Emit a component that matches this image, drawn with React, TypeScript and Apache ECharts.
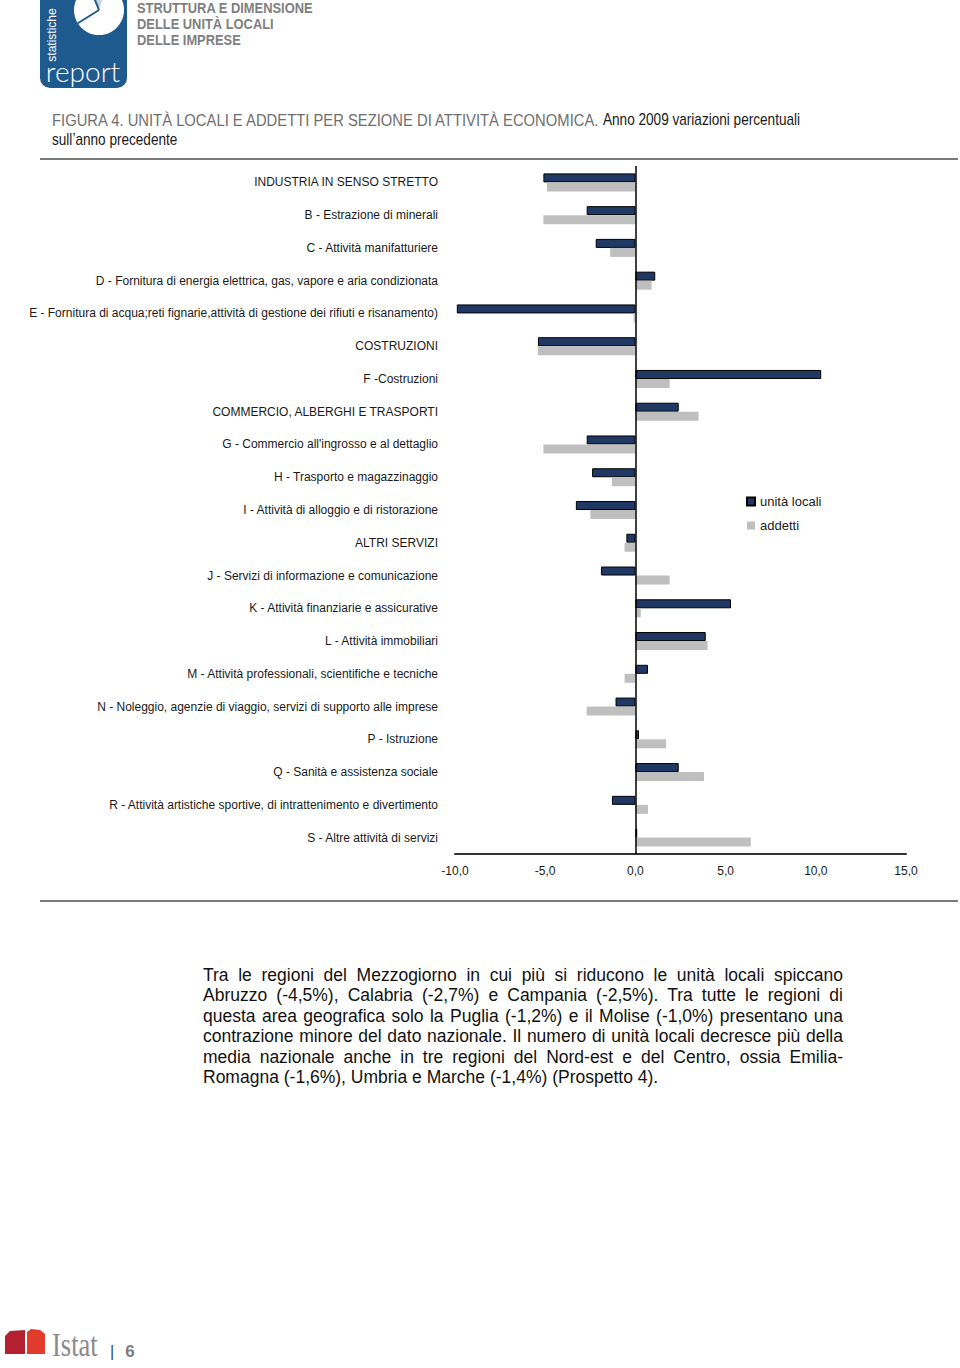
import React, { useEffect, useRef } from "react";
import * as echarts from "echarts";

const SANS = '"Liberation Sans", Arial, sans-serif';

const categories = [
  "INDUSTRIA IN SENSO STRETTO",
  "B - Estrazione di minerali",
  "C - Attività manifatturiere",
  "D - Fornitura di energia elettrica, gas, vapore e aria condizionata",
  "E - Fornitura di acqua;reti fignarie,attività di gestione dei rifiuti e risanamento)",
  "COSTRUZIONI",
  "F -Costruzioni",
  "COMMERCIO, ALBERGHI E TRASPORTI",
  "G - Commercio all'ingrosso e al dettaglio",
  "H - Trasporto e magazzinaggio",
  "I - Attività di alloggio e di ristorazione",
  "ALTRI SERVIZI",
  "J - Servizi di informazione e comunicazione",
  "K - Attività finanziarie e assicurative",
  "L - Attività immobiliari",
  "M - Attività professionali, scientifiche e tecniche",
  "N - Noleggio, agenzie di viaggio, servizi di supporto alle imprese",
  "P - Istruzione",
  "Q - Sanità e assistenza sociale",
  "R - Attività artistiche sportive, di intrattenimento e divertimento",
  "S - Altre attività di servizi",
];

const unitaLocali = [-5.1, -2.7, -2.2, 1.1, -9.9, -5.4, 10.3, 2.4, -2.7, -2.4, -3.3, -0.5, -1.9, 5.3, 3.9, 0.7, -1.1, 0.2, 2.4, -1.3, 0.1];
const addetti = [-4.9, -5.1, -1.4, 0.9, -0.1, -5.4, 1.9, 3.5, -5.1, -1.3, -2.5, -0.6, 1.9, 0.3, 4.0, -0.6, -2.7, 1.7, 3.8, 0.7, 6.4];

const xTicks = { min: -10, max: 15, interval: 5 };

const seriesNames = ["unità locali", "addetti"];

const headerLines = ["STRUTTURA E DIMENSIONE", "DELLE UNITÀ LOCALI", "DELLE IMPRESE"];

const paragraphLines = [
  "Tra le regioni del Mezzogiorno in cui più si riducono le unità locali spiccano",
  "Abruzzo (-4,5%), Calabria (-2,7%) e Campania (-2,5%). Tra tutte le regioni di",
  "questa area geografica solo la Puglia (-1,2%) e il Molise (-1,0%) presentano una",
  "contrazione minore del dato nazionale. Il numero di unità locali decresce più della",
  "media nazionale anche in tre regioni del Nord-est e del Centro, ossia Emilia-",
  "Romagna (-1,6%), Umbria e Marche (-1,4%) (Prospetto 4).",
];

function txt(text: string, x: number, y: number, font: string, fill: string, align = "left", extra: any = {}) {
  const { style: extraStyle, ...rest } = extra;
  return {
    type: "text",
    silent: true,
    x,
    y,
    ...rest,
    style: {
      text,
      x: 0,
      y: 0,
      font,
      fill,
      textAlign: align,
      align,
      textVerticalAlign: "middle",
      verticalAlign: "middle",
      ...(extraStyle || {}),
    },
  };
}

export default function App() {
  const ref = useRef<HTMLDivElement>(null);

  useEffect(() => {
    if (!ref.current) return;
    const chart = echarts.init(ref.current, undefined, { renderer: "svg" });

    const deg = Math.PI / 180;
    const logoCx = 99;
    const logoCy = 10;
    const logoR = 25;

    const graphic: any[] = [
      // logo
      { type: "rect", silent: true, shape: { x: 40, y: -12, width: 87, height: 100, r: 10 }, style: { fill: "#1f5a8f" } },
      { type: "circle", silent: true, shape: { cx: logoCx, cy: logoCy, r: logoR }, style: { fill: "#ffffff" } },
      {
        type: "sector",
        silent: true,
        shape: { cx: logoCx, cy: logoCy, r: logoR, r0: 0, startAngle: -112 * deg, endAngle: -72 * deg },
        style: { fill: "#c9d1da" },
      },
      {
        type: "line",
        silent: true,
        shape: { x1: logoCx, y1: logoCy, x2: logoCx + logoR * Math.cos(148 * deg), y2: logoCy + logoR * Math.sin(148 * deg) },
        style: { stroke: "#1f5a8f", lineWidth: 2 },
      },
      {
        type: "line",
        silent: true,
        shape: { x1: logoCx, y1: logoCy, x2: logoCx + logoR * Math.cos(-112 * deg), y2: logoCy + logoR * Math.sin(-112 * deg) },
        style: { stroke: "#1f5a8f", lineWidth: 2 },
      },
      txt("statistiche", 52, 35, `12px ${SANS}`, "#ffffff", "center", { rotation: Math.PI / 2 }),
      txt("report", 83, 71, `300 28px Lato, "Open Sans", sans-serif`, "#ffffff", "center"),
      // header titles
      ...headerLines.map((t, i) =>
        txt(t, 137, 8 + i * 16, `bold 15px ${SANS}`, "#7f7f7f", "left", { scaleX: 0.86, style: { lineHeight: 14 } })
      ),
      // figure title
      txt("FIGURA 4. UNITÀ LOCALI E ADDETTI PER SEZIONE DI ATTIVITÀ ECONOMICA.", 52, 120, `16px ${SANS}`, "#6e6e6e", "left", { scaleX: 0.925 }),
      txt("Anno 2009 variazioni percentuali", 603, 120, `16px ${SANS}`, "#1a1a1a", "left", { scaleX: 0.85 }),
      txt("sull’anno precedente", 52, 140, `16px ${SANS}`, "#1a1a1a", "left", { scaleX: 0.85 }),
      // rules
      { type: "line", silent: true, shape: { x1: 40, y1: 159, x2: 958, y2: 159 }, style: { stroke: "#4d4d4d", lineWidth: 1.5 } },
      { type: "line", silent: true, shape: { x1: 40, y1: 901, x2: 958, y2: 901 }, style: { stroke: "#4d4d4d", lineWidth: 1.5 } },
      // footer Istat
      { type: "polygon", silent: true, shape: { points: [[5, 1336], [10, 1331], [25, 1330], [25, 1354], [5, 1354]] }, style: { fill: "#b3202f" } },
      { type: "polygon", silent: true, shape: { points: [[27, 1332], [31, 1329], [40, 1330], [45, 1334], [45, 1354], [27, 1354]] }, style: { fill: "#e03b2b" } },
      txt("Istat", 52, 1345, `34px "Liberation Serif", serif`, "#8a8a8a", "left", { scaleX: 0.78 }),
      txt("|", 112, 1351, `16px ${SANS}`, "#2f4a6e", "center"),
      txt("6", 130, 1351, `bold 17px ${SANS}`, "#7a7a7a", "center"),
    ];

    const option: any = {
      animation: false,
      textStyle: { fontFamily: SANS },
      grid: { left: 455, right: 54, top: 166, bottom: 514, containLabel: false, outerBoundsMode: "none" },
      legend: {
        orient: "vertical",
        left: 741,
        top: 490,
        itemWidth: 8,
        itemHeight: 8,
        itemGap: 11,
        icon: "rect",
        textStyle: { fontSize: 13, color: "#1a1a1a", fontFamily: SANS },
        data: seriesNames,
      },
      xAxis: {
        type: "value",
        min: xTicks.min,
        max: xTicks.max,
        interval: xTicks.interval,
        axisLine: { show: true, onZero: false, lineStyle: { color: "#333333", width: 2 } },
        axisTick: { show: false },
        splitLine: { show: false },
        axisLabel: {
          fontSize: 12,
          color: "#1a1a1a",
          margin: 11,
          fontFamily: SANS,
          formatter: (v: number) => v.toFixed(1).replace(".", ","),
        },
      },
      yAxis: {
        type: "category",
        data: categories,
        inverse: true,
        axisLine: { show: false },
        axisTick: { show: false },
        axisLabel: { fontSize: 12, color: "#1a1a1a", margin: 17, fontFamily: SANS },
      },
      series: [
        {
          name: seriesNames[0],
          type: "bar",
          data: unitaLocali,
          barWidth: 9,
          barGap: "0%",
          itemStyle: { color: "#1f3864", borderColor: "#000000", borderWidth: 1 },
          markLine: {
            silent: true,
            symbol: ["none", "none"],
            label: { show: false },
            lineStyle: { color: "#000000", type: "solid", width: 1.5 },
            data: [{ xAxis: 0 }],
          },
        },
        {
          name: seriesNames[1],
          type: "bar",
          data: addetti,
          barWidth: 9,
          barGap: "0%",
          itemStyle: { color: "#bfbfbf" },
        },
      ],
      graphic,
    };

    chart.setOption(option);
    return () => chart.dispose();
  }, []);

  return (
    <div style={{ position: "absolute", left: 0, top: 0, width: 960, height: 1368, background: "#ffffff" }}>
      <div ref={ref} style={{ position: "absolute", left: 0, top: 0, width: 960, height: 1368 }} />
      <div
        style={{
          position: "absolute",
          left: 203,
          top: 965,
          width: 640,
          fontFamily: SANS,
          fontSize: 17.5,
          lineHeight: "20.4px",
          color: "#111111",
        }}
      >
        {paragraphLines.map((line, i) => (
          <div
            key={i}
            style={{
              textAlign: i < paragraphLines.length - 1 ? "justify" : "left",
              textAlignLast: i < paragraphLines.length - 1 ? "justify" : "left",
              whiteSpace: "nowrap",
            } as any}
          >
            {line}
          </div>
        ))}
      </div>
    </div>
  );
}
